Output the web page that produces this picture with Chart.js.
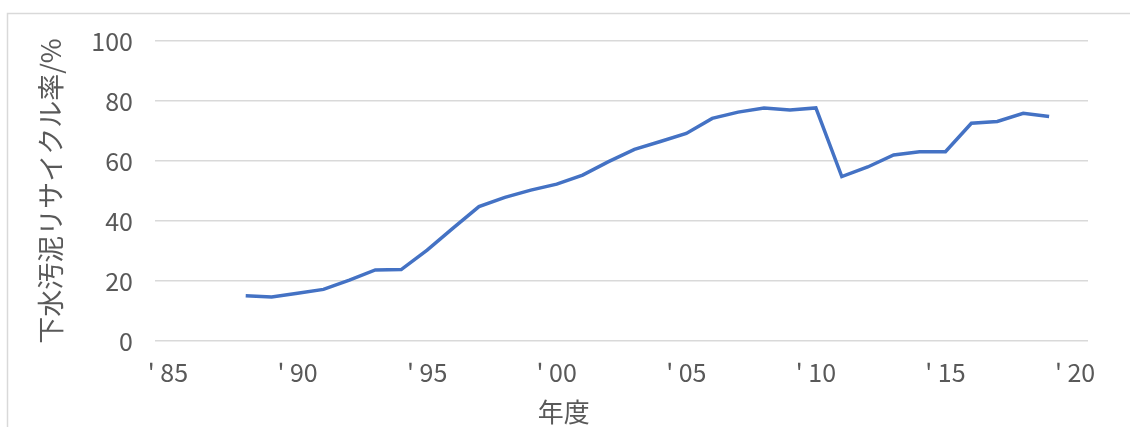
<!DOCTYPE html>
<html>
<head>
<meta charset="utf-8">
<script src="https://cdn.jsdelivr.net/npm/chart.js@4/dist/chart.umd.min.js"></script>
<style>
html,body{margin:0;padding:0;background:#fff;}
#wrap{position:relative;width:1130px;height:427px;}
</style>
</head>
<body>
<div id="wrap"><canvas id="c" width="1130" height="427"></canvas></div>
<script>
const years = [1985,1986,1987,1988,1989,1990,1991,1992,1993,1994,1995,1996,1997,1998,1999,2000,2001,2002,2003,2004,2005,2006,2007,2008,2009,2010,2011,2012,2013,2014,2015,2016,2017,2018,2019,2020];
const recycleRate = [null,null,null,15.1,14.7,15.9,17.2,20.3,23.7,23.8,30.3,37.6,44.8,47.9,50.3,52.3,55.3,59.8,63.9,66.5,69.2,74.2,76.3,77.7,77.0,77.7,54.8,58.0,62.0,63.1,63.1,72.6,73.2,75.9,74.8,null];
const tickYears = [1985,1990,1995,2000,2005,2010,2015,2020];
const tickLabels = ["' 85","' 90","' 95","' 00","' 05","' 10","' 15","' 20"];
const yTitle = "下水汚泥リサイクル率/%";
const xTitle = "年度";

const FONT = "'Noto Sans CJK JP', 'Noto Sans', sans-serif";
const TXT = '#595959';

const borderPlugin = {
  id: 'outerBorder',
  beforeDraw(chart) {
    const ctx = chart.ctx;
    ctx.save();
    ctx.fillStyle = '#ffffff';
    ctx.fillRect(0, 0, chart.width, chart.height);
    ctx.strokeStyle = '#d9d9d9';
    ctx.lineWidth = 1.5;
    ctx.strokeRect(7.5, 13.5, chart.width + 10, chart.height + 10);
    ctx.restore();
  }
};

// x-axis title placed under the '00 tick, as in the original layout
const xTitlePlugin = {
  id: 'xTitle',
  afterDraw(chart) {
    const ctx = chart.ctx;
    const xs = chart.scales.x;
    const cx = xs.getPixelForValue(years.indexOf(2000)) + 7;
    ctx.save();
    ctx.fillStyle = TXT;
    ctx.font = "26px " + FONT;
    ctx.textAlign = 'center';
    ctx.textBaseline = 'middle';
    ctx.fillText(xTitle, cx, 412);
    ctx.restore();
  }
};

new Chart(document.getElementById('c'), {
  type: 'line',
  data: {
    labels: years,
    datasets: [{
      data: recycleRate,
      borderColor: '#4472C4',
      borderWidth: 3.5,
      pointRadius: 0,
      tension: 0,
      spanGaps: false,
      fill: false
    }]
  },
  options: {
    responsive: false,
    animation: false,
    events: [],
    layout: { padding: { left: 8, right: 42, top: 41, bottom: 0 } },
    plugins: { legend: { display: false }, tooltip: { enabled: false } },
    scales: {
      x: {
        type: 'category',
        offset: true,
        grid: { display: false, drawTicks: false },
        border: { display: false },
        ticks: {
          autoSkip: false,
          maxRotation: 0,
          padding: 16,
          color: TXT,
          font: { family: FONT, size: 25 },
          callback: function(value, index) {
            const y = years[index];
            const k = tickYears.indexOf(y);
            return k >= 0 ? tickLabels[k] : null;
          }
        },
        title: { display: false },
        afterFit(scale) { scale.height = 86; }
      },
      y: {
        min: 0,
        max: 100,
        grid: { color: '#d9d9d9', lineWidth: 1.5, drawTicks: false },
        border: { display: false },
        ticks: {
          stepSize: 20,
          padding: 22,
          color: TXT,
          font: { family: FONT, size: 25 }
        },
        title: {
          display: true,
          text: yTitle,
          color: TXT,
          font: { family: FONT, size: 27 },
          padding: { top: 27, bottom: 0 }
        },
        afterFit(scale) { scale.width = 147; }
      }
    }
  },
  plugins: [borderPlugin, xTitlePlugin]
});
</script>
</body>
</html>
